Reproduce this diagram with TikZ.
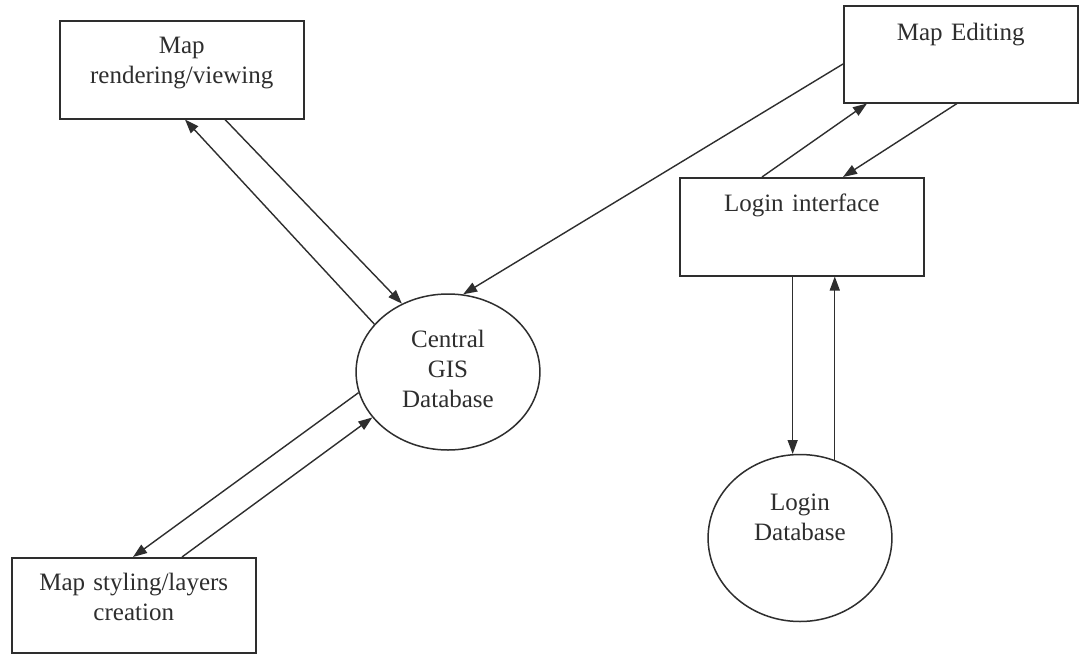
\documentclass[tikz,border=0pt]{standalone}
\usepackage{fontspec}
\setmainfont{Liberation Serif}
\usetikzlibrary{arrows.meta,shapes.geometric,calc}
\definecolor{ink}{HTML}{2E2E2E}
\begin{document}
\begin{tikzpicture}[x=1pt,y=-1pt,
  every node/.style={font=\fontsize{25}{30}\selectfont, text=ink},
  procbox/.style={draw=ink, line width=1.5pt, rectangle, inner sep=0pt,
    align=center, anchor=north west},
  store/.style={draw=ink, line width=1.5pt, ellipse, inner sep=0pt, align=center},
  flow/.style={draw=ink, line width=1.4pt, -{Triangle[length=14pt,width=10pt]}}]
\useasboundingbox[fill=white] (0,0) rectangle (1080,654);

% process boxes (text sits near the top edge)
\node[procbox, text width=244pt, text height=33pt, text depth=65pt] (render) at (59,20)
  {Map\\rendering/viewing};
\node[procbox, text width=234pt, text height=35pt, text depth=62pt] (edit) at (843,5)
  {Map Editing};
\node[procbox, text width=244pt, text height=34pt, text depth=64pt] (login) at (679,177)
  {Login interface};
\node[procbox, text width=244pt, text height=33pt, text depth=62pt] (style) at (11,557)
  {Map styling/layers\\creation};

% data stores (first baseline set above the centre)
\node[store, minimum width=178pt, minimum height=156pt, text width=130pt,
  text height=5pt, text depth=55pt] (gis) at (448,372) {Central\\GIS\\Database};
\node[store, minimum width=175pt, minimum height=167pt, text width=130pt,
  text height=4pt, text depth=60pt] (logindb) at (800,538) {Login\\Database};

% rendering <-> central database
\draw[flow] (gis.147) -- ($(render.south west)+(126,0)$);
\draw[flow] ($(render.south west)+(166,0)$) -- (gis.124);

% editing -> central database
\draw[flow] ($(edit.north west)+(0,59)$) -- (gis.79);

% styling <-> central database
\draw[flow] (gis.193) -- ($(style.north west)+(122,0)$);
\draw[flow] ($(style.north west)+(171,0)$) -- (gis.211);

% login interface <-> editing
\draw[flow] ($(login.north west)+(83,0)$) -- ($(edit.south west)+(24,0)$);
\draw[flow] ($(edit.south west)+(114,0)$) -- ($(login.north west)+(164,0)$);

% login interface <-> login database
\draw[flow] (logindb.95.5 |- login.south) -- (logindb.95.5);
\draw[flow] (logindb.66.8) -- (logindb.66.8 |- login.south);
\end{tikzpicture}
\end{document}
